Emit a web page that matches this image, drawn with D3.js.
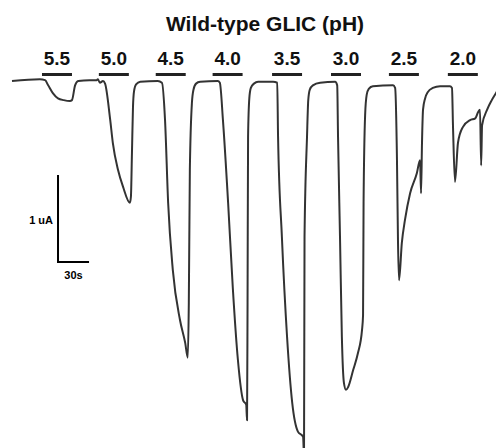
<!DOCTYPE html>
<html>
<head>
<meta charset="utf-8">
<script src="https://cdn.jsdelivr.net/npm/d3@7"></script>
<style>
  body { margin: 0; background: #fff; }
  svg { display: block; font-family: "Liberation Sans", Arial, sans-serif; }
</style>
</head>
<body>
<svg id="chart" width="496" height="448"></svg>
<script>
// recording, time in s, current in uA (inward = negative)
var time = [0, 27, 32, 35, 39.5, 44.5, 50, 56, 58, 61, 64, 75, 82, 83, 85, 88, 90,
  95, 97.5, 102.5, 107.5, 114, 115, 116, 117, 118, 120, 124, 141, 145,
  148, 151, 155.5, 162.5, 167.5, 170, 171, 172, 174, 175.5, 178, 182, 199, 201,
  204, 209, 213.5, 218.5, 223.5, 226.5, 227.3, 227.8, 228.3, 229.5, 231, 234, 238, 252.5, 256.5,
  257.3, 261, 266, 271, 276.5, 281.5, 282.4, 282.9, 285.3, 286.5, 288, 291, 298, 312.5, 314.5,
  315.3, 317.2, 319, 321, 323, 325, 330, 334.5, 338.5, 339.5, 340, 341.5, 343, 345, 349, 368.5, 370.5,
  372.3, 373.3, 374.3, 377, 380, 385, 391.5, 394.6, 395.6, 396.5, 397.5, 399.5, 402, 407, 414, 423.5, 425.5,
  426.5, 428.4, 431.3, 436, 443, 448, 450.7, 452.6, 453.7, 454.6, 459.5, 464, 468, 472];
var current = [0, 0.02, 0.01, -0.05, -0.14, -0.2, -0.22, -0.23, -0.22, -0.05, 0, 0.01, 0.01, 0.02, -0.02, 0, -0.03,
  -0.45, -0.71, -1.02, -1.22, -1.4, -1.33, -0.83, -0.3, -0.12, -0.04, -0.01, 0, -0.02,
  -0.45, -1.4, -2.17, -2.75, -3.01, -3.18, -2.55, -1.02, -0.25, -0.1, -0.03, -0.01, 0, -0.02,
  -0.45, -1.4, -2.37, -3.21, -3.67, -3.72, -3.9, -2.55, -0.64, -0.2, -0.08, -0.03, -0.01, -0.01, -0.02,
  -0.64, -1.79, -2.94, -3.7, -4.03, -4.09, -4.3, -1.79, -0.64, -0.22, -0.1, -0.05, -0.02, -0.01, -0.05,
  -0.64, -1.79, -2.94, -3.47, -3.55, -3.52, -3.32, -3.13, -2.86, -2.69, -1.4, -0.39, -0.16, -0.09, -0.06, -0.05, -0.08,
  -0.91, -1.86, -2.29, -1.86, -1.6, -1.29, -1.06, -0.91, -1.29, -0.71, -0.33, -0.2, -0.13, -0.08, -0.06, -0.06, -0.08,
  -0.53, -1.16, -0.71, -0.53, -0.45, -0.43, -0.36, -0.33, -0.97, -0.51, -0.33, -0.22, -0.14, -0.05];

var phLabels = ["5.5", "5.0", "4.5", "4.0", "3.5", "3.0", "2.5", "2.0"];
var pulseStart = [29, 84, 139, 194, 251.5, 308.5, 364.5, 421.5];
var pulseLength = 29;

var svg = d3.select("#chart");

var x = d3.scaleLinear().domain([0, 470]).range([12, 498]);
var y = d3.scaleLinear().domain([0, -1]).range([81, 168]);

svg.append("text")
  .attr("x", 265)
  .attr("y", 31)
  .attr("text-anchor", "middle")
  .attr("font-size", 21)
  .attr("font-weight", "bold")
  .attr("fill", "#111")
  .text("Wild-type GLIC (pH)");

var pulses = svg.selectAll(".pulse")
  .data(phLabels)
  .enter().append("g")
  .attr("class", "pulse");

pulses.append("rect")
  .attr("x", (d, i) => x(pulseStart[i]))
  .attr("y", 73)
  .attr("width", x(pulseLength) - x(0))
  .attr("height", 3)
  .attr("fill", "#222");

pulses.append("text")
  .attr("x", (d, i) => x(pulseStart[i] + pulseLength / 2))
  .attr("y", 65)
  .attr("text-anchor", "middle")
  .attr("font-size", 19)
  .attr("font-weight", "bold")
  .attr("fill", "#111")
  .text(d => d);

var line = d3.line()
  .x((d, i) => x(time[i]))
  .y(d => y(d))
  .curve(d3.curveMonotoneX);

svg.append("path")
  .datum(current)
  .attr("fill", "none")
  .attr("stroke", "#333")
  .attr("stroke-width", 2)
  .attr("stroke-linejoin", "round")
  .attr("d", line);

// scale bar: 1 uA, 30 s
var sbT = 44.5, sbI = -1.08;
svg.append("path")
  .attr("fill", "none")
  .attr("stroke", "#000")
  .attr("stroke-width", 2)
  .attr("d", "M" + x(sbT) + "," + y(sbI) + "V" + y(sbI - 1) + "H" + x(sbT + 30));

svg.append("text")
  .attr("x", x(sbT) - 5)
  .attr("y", 224)
  .attr("text-anchor", "end")
  .attr("font-size", 11)
  .attr("font-weight", "bold")
  .text("1 uA");

svg.append("text")
  .attr("x", x(sbT + 15))
  .attr("y", 279)
  .attr("text-anchor", "middle")
  .attr("font-size", 11)
  .attr("font-weight", "bold")
  .text("30s");
</script>
</body>
</html>
